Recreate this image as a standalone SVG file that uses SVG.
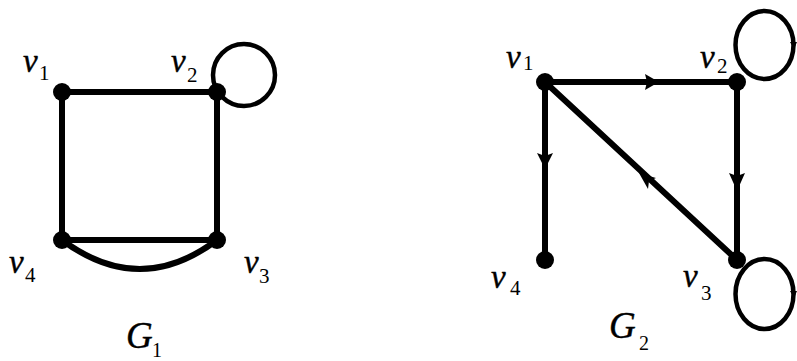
<svg xmlns="http://www.w3.org/2000/svg" width="797" height="361" viewBox="0 0 797 361">
<style>
.e{stroke:#000;stroke-width:6;fill:none;stroke-linecap:round}
.l{stroke:#000;stroke-width:4.5;fill:none}
.n{fill:#000}
.t{font-family:"Liberation Serif",serif;font-style:italic;font-size:33px;fill:#000;stroke:#000;stroke-width:0.4}
.s{font-family:"Liberation Serif",serif;font-size:21px;fill:#000}
.g{font-family:"Liberation Serif",serif;font-style:italic;font-size:37px;fill:#000;stroke:#000;stroke-width:0.4}
.gs{font-family:"Liberation Serif",serif;font-size:20px;fill:#000}
.a{fill:#000}
</style>
<rect width="797" height="361" fill="#fff"/>
<g id="connectors">
<line class="e" x1="62" y1="92" x2="217" y2="92"/>
<line class="e" x1="62" y1="92" x2="62" y2="240"/>
<line class="e" x1="217" y1="92" x2="217" y2="240"/>
<line class="e" x1="62" y1="240" x2="217" y2="240"/>
<path class="e" d="M62,240 Q140,298 217,240"/>
<circle class="l" cx="244" cy="75" r="31"/>
<line class="e" x1="545" y1="82" x2="737" y2="82"/>
<line class="e" x1="545" y1="82" x2="545" y2="260"/>
<line class="e" x1="737" y1="82" x2="737" y2="260"/>
<line class="e" x1="545" y1="82" x2="737" y2="260"/>
<ellipse class="l" cx="764.5" cy="45" rx="29" ry="34"/>
<ellipse class="l" cx="764.5" cy="294" rx="29" ry="35"/>
<polygon class="a" points="659,82 645,74 647,82 645,90"/>
<polygon class="a" points="545,169 537,153 545,156 553,153"/>
<polygon class="a" points="737,191 729,173 737,176 745,173"/>
<polygon class="a" points="639,173 656,178 649,181 648,189"/>
<polygon class="a" points="794,49 790,42 797,42"/>
<polygon class="a" points="794,298 790,291 797,291"/>
</g>
<g id="G1-v1"><circle class="n" cx="62" cy="92" r="9"/><text class="t" x="23" y="72">v</text><text class="s" x="39" y="80">1</text></g>
<g id="G1-v2"><circle class="n" cx="217" cy="92" r="9"/><text class="t" x="171" y="72">v</text><text class="s" x="187" y="82">2</text></g>
<g id="G1-v3"><circle class="n" cx="217" cy="240" r="9"/><text class="t" x="244" y="273">v</text><text class="s" x="259" y="283">3</text></g>
<g id="G1-v4"><circle class="n" cx="62" cy="240" r="9"/><text class="t" x="9" y="273">v</text><text class="s" x="25" y="282">4</text></g>
<g id="G1-label"><text class="g" x="126" y="348">G</text><text class="gs" x="152" y="357">1</text></g>
<g id="G2-v1"><circle class="n" cx="545" cy="82" r="9"/><text class="t" x="506" y="68">v</text><text class="s" x="523" y="70">1</text></g>
<g id="G2-v2"><circle class="n" cx="737" cy="82" r="9"/><text class="t" x="700" y="68">v</text><text class="s" x="717" y="73">2</text></g>
<g id="G2-v3"><circle class="n" cx="737" cy="260" r="9"/><text class="t" x="683" y="287">v</text><text class="s" x="701" y="300">3</text></g>
<g id="G2-v4"><circle class="n" cx="545" cy="260" r="9"/><text class="t" x="491" y="288">v</text><text class="s" x="510" y="295">4</text></g>
<g id="G2-label"><text class="g" x="609" y="338">G</text><text class="gs" x="639" y="350">2</text></g>
</svg>
